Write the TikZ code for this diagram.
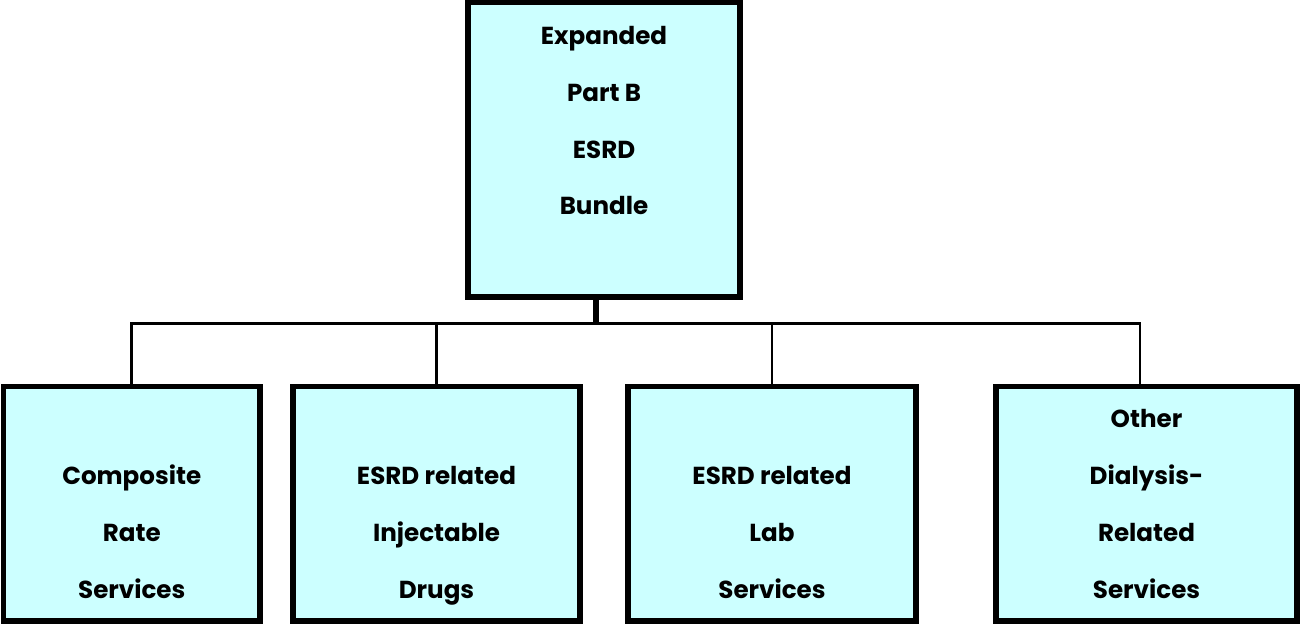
\documentclass[tikz,border=0pt]{standalone}
\usepackage{fontspec}
\setsansfont{Poppins}
\definecolor{boxcyan}{HTML}{CCFFFF}
\tikzset{
  unit/.style={draw, line width=3.2pt, fill=boxcyan, inner sep=0pt, outer sep=0pt,
    minimum height=4.69cm},
  unittext/.style={align=center, anchor=base, inner sep=0pt,
    font=\sffamily\bfseries\fontsize{14}{32.4}\selectfont},
  bus/.style={line width=1.5pt},
  stem/.style={line width=3.2pt},
}
\begin{document}
\begin{tikzpicture}[x=0.02cm,y=-0.02cm]
\useasboundingbox (0,0) rectangle (1300,624);
% top of the tree
\node[unit, minimum width=5.44cm, minimum height=5.89cm] (bundle) at (604,149.75) {};
\node[unittext] (bundletxt) at (604,215) {Expanded\\Part B\\ESRD\\Bundle};
% the four parts
\node[unit, minimum width=5.13cm] (crs) at (131.75,503.75) {};
\node[unit, minimum width=5.74cm] (drugs) at (436.5,503.75) {};
\node[unit, minimum width=5.76cm] (labs) at (772,503.75) {};
\node[unit, minimum width=6.02cm] (other) at (1146.5,503.75) {};
\node[unittext] (crstxt) at (crs |- 0,598) {Composite\\Rate\\Services};
\node[unittext] (drugstxt) at (drugs |- 0,598) {ESRD related\\Injectable\\Drugs};
\node[unittext] (labstxt) at (labs |- 0,598) {ESRD related\\Lab\\Services};
\node[unittext] (othertxt) at (other |- 0,598) {Other\\Dialysis-\\Related\\Services};
% connectors
\coordinate (hub) at (596,323.5);
\draw[stem] (bundle.south -| hub) -- (hub);
\draw[bus] (crs.north) |- (hub) -| ([xshift=-0.13cm]other.north);
\draw[bus] (drugs.north) -- (drugs.north |- hub);
\draw[bus] (labs.north) -- (labs.north |- hub);
\end{tikzpicture}
\end{document}
